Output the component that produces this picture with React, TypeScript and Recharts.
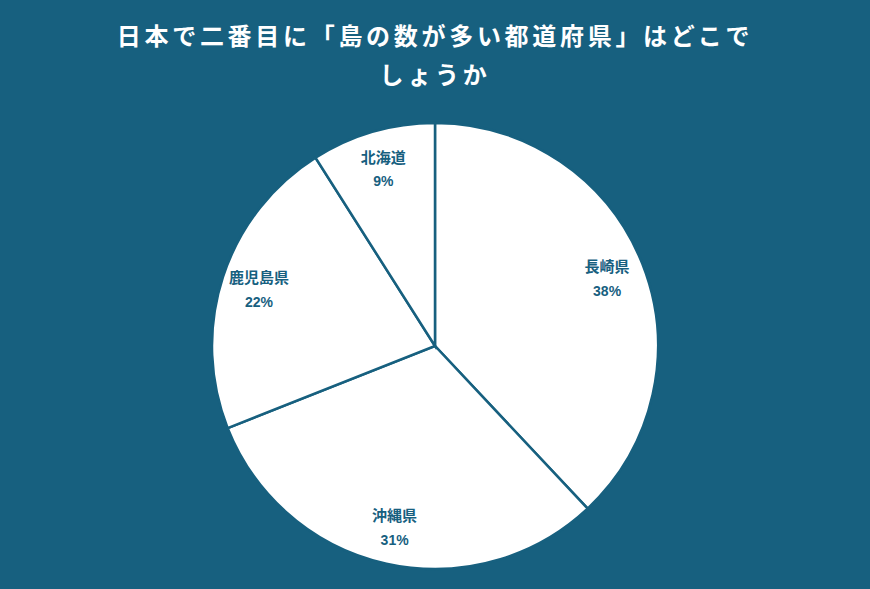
import { PieChart, Pie, Cell } from "recharts"

const prefectures = ["長崎県", "沖縄県", "鹿児島県", "北海道"]
const shares = [38, 31, 22, 9]
const titleLines = ["日本で二番目に「島の数が多い都道府県」はどこで", "しょうか"]

const data = prefectures.map((name, i) => ({ name, value: shares[i] }))

const BG = "#17607f"
const RAD = Math.PI / 180

const renderLabel = (props: any) => {
    const { cx, cy, midAngle, outerRadius, name, value } = props
    const r = outerRadius * 0.83
    const x = cx + r * Math.cos(-midAngle * RAD)
    const y = cy + r * Math.sin(-midAngle * RAD)
    return (
        <g>
            <text x={x} y={y - 12} textAnchor="middle" dominantBaseline="central"
                fill={BG} fontSize={15} fontWeight="bold"
                fontFamily="'Noto Sans CJK JP', sans-serif">
                {name}
            </text>
            <text x={x} y={y + 13} textAnchor="middle" dominantBaseline="central"
                fill={BG} fontSize={14} fontWeight="bold"
                fontFamily="'Liberation Sans', Arial, sans-serif">
                {value}%
            </text>
        </g>
    )
}

export default function App() {
    return (
        <div style={{ position: "absolute", top: 0, left: 0, width: 870, height: 589, background: BG }}>
            {titleLines.map((line, i) => (
                <div key={i} style={{
                    position: "absolute", left: 0, width: 870, top: 17 + i * 39, textAlign: "center",
                    color: "#fff", fontSize: 24, fontWeight: "bold", letterSpacing: 3.7,
                    fontFamily: "'Noto Sans CJK JP', sans-serif", lineHeight: "36px",
                }}>
                    {line}
                </div>
            ))}
            <PieChart width={870} height={589} margin={{ top: 0, right: 0, bottom: 0, left: 0 }}
                style={{ position: "absolute", top: 0, left: 0 }}>
                <Pie
                    data={data}
                    dataKey="value"
                    nameKey="name"
                    cx={435}
                    cy={346}
                    outerRadius={223}
                    startAngle={90}
                    endAngle={-270}
                    stroke={BG}
                    strokeWidth={2.5}
                    label={renderLabel}
                    labelLine={false}
                    isAnimationActive={false}
                >
                    {data.map((d) => (
                        <Cell key={d.name} fill="#ffffff" />
                    ))}
                </Pie>
            </PieChart>
        </div>
    )
}
